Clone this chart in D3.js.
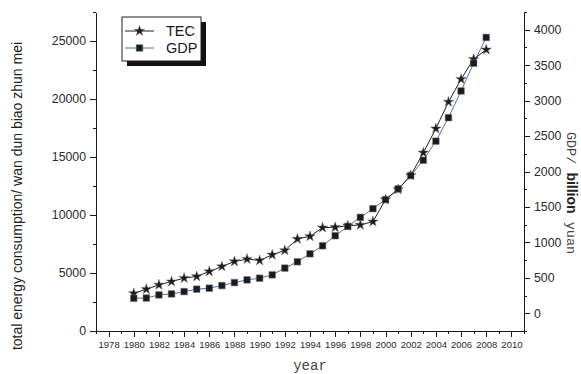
<!DOCTYPE html>
<html>
<head>
<meta charset="utf-8">
<script src="https://cdn.jsdelivr.net/npm/d3@7"></script>
<style>
body { margin:0; background:#fff; }
svg { display:block; font-family:"Liberation Sans", Arial, sans-serif; }
.axis path, .axis line { stroke:#1a1a1a; shape-rendering:crispEdges; }
.axis text { fill:#2a2a2a; font-family:"Liberation Sans", Arial, sans-serif; }
</style>
</head>
<body>
<div id="chart"></div>
<script>
// data
var years = [1980,1981,1982,1983,1984,1985,1986,1987,1988,1989,1990,1991,1992,1993,1994,
	1995,1996,1997,1998,1999,2000,2001,2002,2003,2004,2005,2006,2007,2008];
// total energy consumption (left axis)
var tec = [3240,3600,3980,4260,4560,4700,5130,5560,5990,6200,6080,6570,6950,7930,8160,
	8910,8940,9080,9140,9430,11330,12200,13410,15370,17450,19750,21710,23440,24250];
// gdp, billion yuan (right axis)
var gdp = [212,215,259,273,306,340,354,391,433,471,495,542,637,726,839,
	952,1094,1225,1353,1476,1603,1755,1943,2159,2428,2759,3136,3528,3891];

var yearTicks = [1978,1980,1982,1984,1986,1988,1990,1992,1994,1996,1998,2000,2002,2004,2006,2008,2010];
var yearMinor = [1977,1979,1981,1983,1985,1987,1989,1991,1993,1995,1997,1999,2001,2003,2005,2007,2009,2011];
var tecTicks = [0,5000,10000,15000,20000,25000];
var tecMinor = [2500,7500,12500,17500,22500,27500];
var gdpTicks = [0,500,1000,1500,2000,2500,3000,3500,4000];
var gdpMinor = [-250,250,750,1250,1750,2250,2750,3250,3750,4250];

var W = 581, H = 374;
var LEFT = 96, RIGHT = 524, TOP = 12, BOTTOM = 331;

var svg = d3.select("#chart").append("svg")
	.attr("width", W)
	.attr("height", H);

var x = d3.scaleLinear().domain([1977, 2011]).range([LEFT, RIGHT]);
var yL = d3.scaleLinear().domain([0, 27500]).range([BOTTOM, TOP]);
var yR = d3.scaleLinear().domain([-250, 4250]).range([BOTTOM, TOP]);

// axes, major then minor ticks
function drawAxis(axisFn, scale, major, minor, transform, fontSize, pad) {
	var g = svg.append("g").attr("class", "axis").attr("transform", transform);
	g.call(axisFn(scale).tickValues(major).tickSize(6).tickSizeOuter(0)
		.tickPadding(pad).tickFormat(d3.format("d")));
	g.selectAll("text").style("font-size", fontSize + "px");
	var m = svg.append("g").attr("class", "axis").attr("transform", transform);
	m.call(axisFn(scale).tickValues(minor).tickSize(3).tickSizeOuter(0).tickFormat(""));
	m.select(".domain").remove();
	return g;
}

drawAxis(d3.axisBottom, x, yearTicks, yearMinor, "translate(0," + BOTTOM + ")", 9.5, 4);
drawAxis(d3.axisLeft, yL, tecTicks, tecMinor, "translate(" + LEFT + ",0)", 12.3, 4);
drawAxis(d3.axisRight, yR, gdpTicks, gdpMinor, "translate(" + RIGHT + ",0)", 12.3, 4);

// lines
var lineTec = d3.line()
	.x(function(d, i) { return x(years[i]); })
	.y(function(d) { return yL(d); });
var lineGdp = d3.line()
	.x(function(d, i) { return x(years[i]); })
	.y(function(d) { return yR(d); });

svg.append("path").datum(gdp)
	.attr("d", lineGdp)
	.attr("fill", "none")
	.attr("stroke", "#4d6fc4")
	.attr("stroke-width", 1);

svg.append("path").datum(tec)
	.attr("d", lineTec)
	.attr("fill", "none")
	.attr("stroke", "#222")
	.attr("stroke-width", 1);

var star = d3.symbol().type(d3.symbolStar).size(34);
var square = d3.symbol().type(d3.symbolSquare).size(44);

svg.append("g").selectAll("path")
	.data(tec)
	.enter().append("path")
	.attr("d", star)
	.attr("transform", function(d, i) { return "translate(" + x(years[i]) + "," + yL(d) + ")"; })
	.attr("fill", "#1b1b1b")
	.attr("stroke", "#777")
	.attr("stroke-width", 0.5);

svg.append("g").selectAll("path")
	.data(gdp)
	.enter().append("path")
	.attr("d", square)
	.attr("transform", function(d, i) { return "translate(" + x(years[i]) + "," + yR(d) + ")"; })
	.attr("fill", "#1b1b1b")
	.attr("stroke", "#777")
	.attr("stroke-width", 0.5);

// legend with drop shadow
var lg = svg.append("g").attr("transform", "translate(122,17)");
lg.append("rect").attr("x", 5).attr("y", 5).attr("width", 79).attr("height", 44).attr("fill", "#111");
lg.append("rect").attr("width", 79).attr("height", 44)
	.attr("fill", "#fff").attr("stroke", "#222").attr("stroke-width", 1);

var legendItems = [
	{ name: "TEC", color: "#222", sym: star, y: 14 },
	{ name: "GDP", color: "#4d6fc4", sym: square, y: 31 }
];
legendItems.forEach(function(it) {
	lg.append("line").attr("x1", 3).attr("x2", 32).attr("y1", it.y).attr("y2", it.y)
		.attr("stroke", it.color).attr("stroke-width", 1);
	lg.append("path").attr("d", it.sym).attr("transform", "translate(17.5," + it.y + ")")
		.attr("fill", "#1b1b1b").attr("stroke", "#777").attr("stroke-width", 0.5);
	lg.append("text").attr("x", 44).attr("y", it.y + 5.2)
		.style("font-size", "14.5px").attr("fill", "#1a1a1a").text(it.name);
});

// axis titles
svg.append("text")
	.attr("transform", "translate(22,196) rotate(-90)")
	.attr("text-anchor", "middle")
	.style("font-size", "14px")
	.attr("fill", "#222")
	.text("total energy consumption/ wan dun biao zhun mei");

svg.append("text")
	.attr("x", 310).attr("y", 370)
	.attr("text-anchor", "middle")
	.style("font-family", "'Liberation Mono', 'DejaVu Sans Mono', monospace")
	.style("font-size", "14px")
	.attr("fill", "#444")
	.text("year");

var rt = svg.append("text")
	.attr("transform", "translate(567,193) rotate(90)")
	.attr("text-anchor", "middle")
	.attr("fill", "#444");
rt.append("tspan").style("font-family", "'Liberation Mono', monospace").style("font-size", "13.5px").text("GDP/ ");
rt.append("tspan").style("font-size", "14px").style("font-weight", "bold").attr("fill", "#222").text("billion");
rt.append("tspan").style("font-family", "'Liberation Mono', monospace").style("font-size", "13.5px").text(" yuan");
</script>
</body>
</html>
